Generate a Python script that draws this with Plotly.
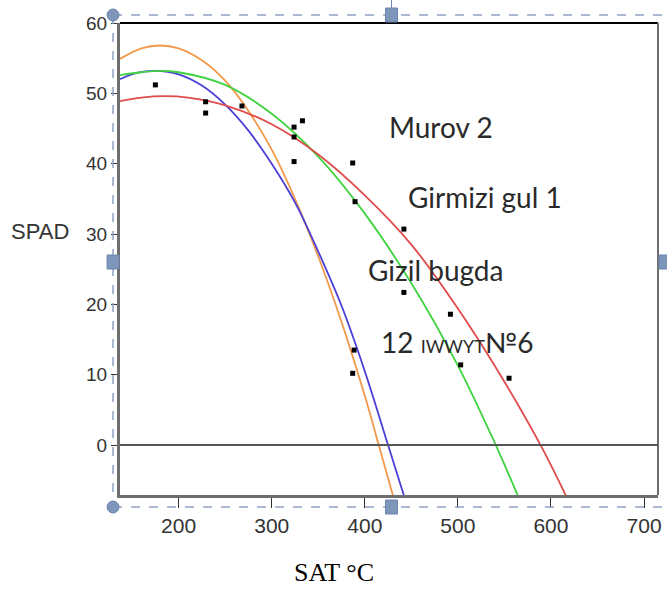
import plotly.graph_objects as go

# ---- data ----
pts_x = [175, 229, 229, 268, 324, 333, 324, 324, 387, 389.5, 442, 442, 388.5, 387, 492, 503, 555]
pts_y = [51.2, 48.8, 47.2, 48.2, 45.2, 46.1, 43.8, 40.3, 40.1, 34.6, 30.7, 21.7, 13.5, 10.2, 18.6, 11.4, 9.5]

orange_x = [137, 160, 180, 200, 225, 250, 275, 300, 325, 350, 375, 400, 415, 432]
orange_y = [54.9, 56.4, 56.8, 56.4, 54.7, 51.8, 47.5, 42.0, 35.0, 26.8, 17.5, 7.0, 0.0, -8.0]

blue_x = [137, 155, 175, 200, 225, 250, 275, 300, 325, 350, 375, 400, 425, 444]
blue_y = [52.0, 52.9, 53.2, 52.7, 51.1, 48.4, 44.7, 40.0, 34.5, 27.5, 19.8, 10.5, 0.0, -8.0]

green_x = [137, 160, 180, 200, 250, 300, 350, 400, 450, 500, 540, 567]
green_y = [52.6, 53.0, 53.2, 53.0, 51.2, 47.1, 41.0, 32.9, 23.0, 11.3, 0.2, -8.0]

red_x = [137, 160, 185, 210, 250, 300, 350, 400, 450, 500, 550, 590, 619]
red_y = [48.9, 49.4, 49.6, 49.4, 48.3, 45.6, 41.3, 35.5, 28.5, 19.4, 9.0, -0.3, -8.0]

labels = ["Murov 2", "Girmizi gul 1", "Gizil bugda",
          "12 <span style='font-size:18px'>IWWYT</span>№6"]
label_x = [481.6, 528.6, 475.7, 499.2]
label_y = [45.2, 35.3, 24.9, 14.6]

x_ticks = [200, 300, 400, 500, 600, 700]
y_ticks = [0, 10, 20, 30, 40, 50, 60]

W, H = 667, 592
L, R, T, B = 120, 6, 23, 97
pw, ph = W - L - R, H - T - B


def px(x):
    return (x - L) / pw


def py(y):
    return (H - B - y) / ph


fig = go.Figure()
for xs, ys, col in [(orange_x, orange_y, "#f2994a"), (blue_x, blue_y, "#4b3fd6"),
                    (green_x, green_y, "#3fd33f"), (red_x, red_y, "#e04b4b")]:
    fig.add_trace(go.Scatter(x=xs, y=ys, mode="lines", line=dict(color=col, width=1.8, shape="spline"),
                             showlegend=False, hoverinfo="skip"))
fig.add_trace(go.Scatter(x=pts_x, y=pts_y, mode="markers",
                         marker=dict(symbol="square", size=5, color="black"), showlegend=False))

for t, x, y in zip(labels, label_x, label_y):
    fig.add_annotation(x=x, y=y, text=t, showarrow=False, xanchor="center", yanchor="middle",
                       font=dict(family="Lato", size=28, color="#2a2a2a"))

fig.add_annotation(xref="paper", yref="paper", x=px(40), y=py(231), text="SPAD", showarrow=False,
                   xanchor="center", yanchor="middle", font=dict(family="Liberation Sans", size=22, color="#333"))
fig.add_annotation(xref="paper", yref="paper", x=px(335), y=py(572), text="SAT °C", showarrow=False,
                   xanchor="center", yanchor="middle", borderpad=0,
                   font=dict(family="Liberation Serif", size=26, color="black"))

sel = "#8ea2c2"
shapes = [
    dict(type="line", xref="paper", yref="paper", x0=0, x1=1, y0=1, y1=1, line=dict(color="black", width=2)),
    dict(type="line", xref="paper", yref="paper", x0=1, x1=1, y0=0, y1=1, line=dict(color="#6e6e6e", width=2)),
    dict(type="line", xref="paper", yref="y", x0=0, x1=1, y0=0, y1=0, line=dict(color="#555555", width=2)),
    dict(type="line", xref="paper", yref="paper", x0=px(113), x1=px(113), y0=py(15), y1=py(507),
         line=dict(color=sel, width=1.5, dash="dash")),
    dict(type="line", xref="paper", yref="paper", x0=px(113), x1=px(667), y0=py(15), y1=py(15),
         line=dict(color=sel, width=1.5, dash="dash")),
    dict(type="line", xref="paper", yref="paper", x0=px(113), x1=px(667), y0=py(507), y1=py(507),
         line=dict(color=sel, width=1.5, dash="dash")),
    dict(type="line", xref="paper", yref="paper", x0=px(393), x1=px(393), y0=py(0), y1=py(9),
         line=dict(color="#6f86ad", width=1)),
]
for cx, cy in [(113, 15), (113, 507)]:
    shapes.append(dict(type="circle", xref="paper", yref="paper", x0=px(cx - 6), x1=px(cx + 6),
                       y0=py(cy - 6), y1=py(cy + 6), fillcolor="#7f96bb", line=dict(color="#6b84ad", width=1)))
for cx, cy in [(393, 15), (113, 262), (393, 507), (668, 262)]:
    shapes.append(dict(type="rect", xref="paper", yref="paper", x0=px(cx - 6), x1=px(cx + 6),
                       y0=py(cy - 7), y1=py(cy + 7), fillcolor="#7f96bb", line=dict(color="#6b84ad", width=1)))

fig.update_layout(
    width=W, height=H, margin=dict(l=L, r=R, t=T, b=B),
    paper_bgcolor="white", plot_bgcolor="white", shapes=shapes,
    xaxis=dict(range=[137, 715], tickvals=x_ticks, ticks="outside", ticklen=10, tickcolor="#333",
               showgrid=False, zeroline=False, showline=True, linecolor="#6e6e6e", linewidth=2.5,
               tickfont=dict(family="Liberation Sans", size=21, color="#333")),
    yaxis=dict(range=[-7.1, 60], tickvals=y_ticks, ticks="outside", ticklen=6, tickcolor="#333",
               showgrid=False, zeroline=False, showline=True, linecolor="#6e6e6e", linewidth=3,
               tickfont=dict(family="Liberation Sans", size=19, color="#333")),
)

fig.write_html("out.html")
